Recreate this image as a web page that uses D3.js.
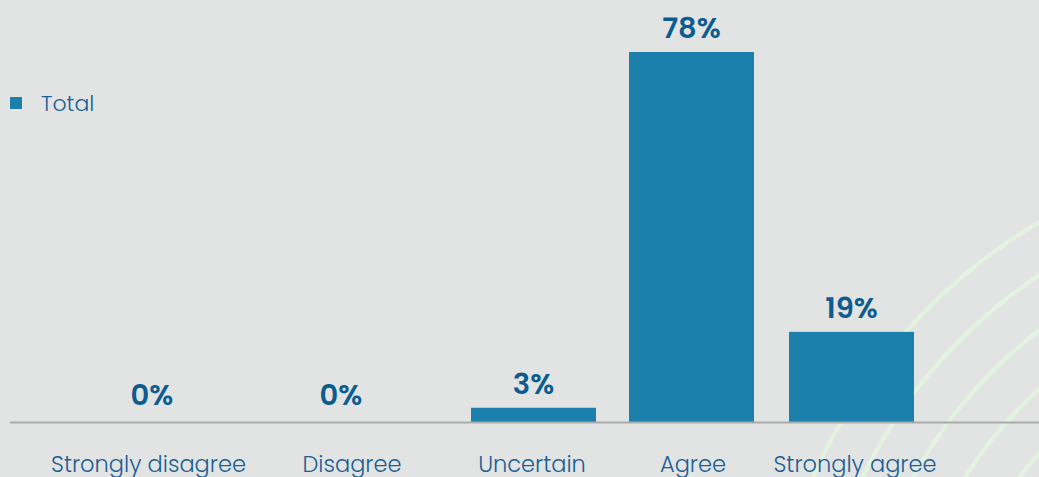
<!DOCTYPE html>
<html><head><meta charset="utf-8">
<script src="https://cdn.jsdelivr.net/npm/d3@7"></script>
<style>
html,body{margin:0;padding:0;background:#e2e4e3;overflow:hidden}
text{font-family:"Poppins","Lato","Open Sans",sans-serif}
</style></head><body>
<svg id="c" width="1039" height="477"></svg>
<script>
const categories = ["Strongly disagree","Disagree","Uncertain","Agree","Strongly agree"];
const values = [0, 0, 3, 78, 19];
const valueLabels = ["0%","0%","3%","78%","19%"];
const seriesName = "Total";

const W = 1039, H = 477;
const svg = d3.select("#c");
svg.append("rect").attr("width",W).attr("height",H).attr("fill","#e2e4e3");

// decorative arcs
const deco = svg.append("g");
[552, 507, 462, 417, 372].forEach(r => {
  deco.append("circle").attr("cx",1319).attr("cy",698).attr("r",r)
    .attr("fill","none").attr("stroke","#e4f3e0").attr("stroke-width",4);
});

const baseY = 422;
const y = d3.scaleLinear().domain([0, 78]).range([baseY, 52]);
const xc = d3.scaleOrdinal().domain(categories).range([152, 341, 533.5, 691.5, 851.5]);
const xl = d3.scaleOrdinal().domain(categories).range([148.5, 352, 532, 693, 855]);
const bw = 125;

svg.append("g").selectAll("rect").data(categories).join("rect")
  .attr("x", d => xc(d) - bw/2)
  .attr("y", (d,i) => y(values[i]))
  .attr("width", bw)
  .attr("height", (d,i) => baseY - y(values[i]))
  .attr("fill", "#1c7fac");

svg.append("line").attr("x1",10).attr("x2",W).attr("y1",baseY+0.5).attr("y2",baseY+0.5)
  .attr("stroke","#a9aaaa").attr("stroke-width",2);

svg.append("g").selectAll("text").data(categories).join("text")
  .attr("x", d => xc(d))
  .attr("y", (d,i) => y(values[i]) - (values[i] === 0 ? 17 : 14))
  .attr("text-anchor","middle")
  .attr("font-size",29).attr("font-weight",600).attr("fill","#0d5c91")
  .text((d,i) => valueLabels[i]);

svg.append("g").selectAll("text").data(categories).join("text")
  .attr("x", d => xl(d))
  .attr("y", 472)
  .attr("text-anchor","middle")
  .attr("font-size",22.5).attr("font-weight",300).attr("fill","#1a5f95")
  .text(d => d);

svg.append("rect").attr("x",10).attr("y",97).attr("width",12).attr("height",12).attr("fill","#1c7fac");
svg.append("text").attr("x",41).attr("y",111).attr("font-size",22).attr("font-weight",300)
  .attr("fill","#1a5f95").text(seriesName);
</script>
</body></html>
